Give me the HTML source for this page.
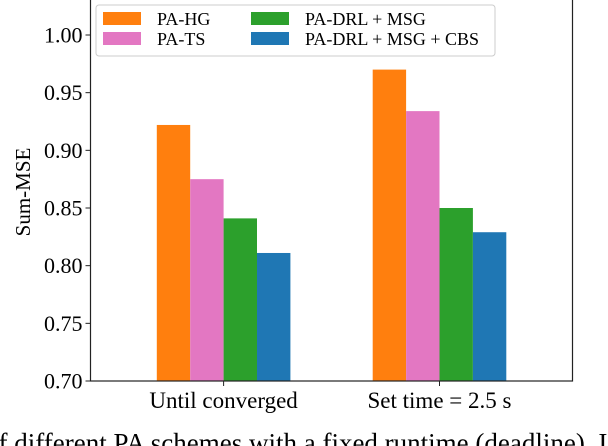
<!DOCTYPE html>
<html><head><meta charset="utf-8"><style>
html,body{margin:0;padding:0;background:#fff;overflow:hidden;width:608px;height:446px}
svg text{font-family:"Liberation Serif",serif;fill:#000}
</style></head><body>
<svg id="chart" width="608" height="446" viewBox="0 0 608 446" xmlns="http://www.w3.org/2000/svg"></svg>
<script>
const categories = ["Until converged", "Set time = 2.5 s"];
const seriesNames = ["PA-HG", "PA-TS", "PA-DRL + MSG", "PA-DRL + MSG + CBS"];
const paHG = [0.922, 0.970];
const paTS = [0.875, 0.934];
const paDrlMsg = [0.841, 0.850];
const paDrlMsgCbs = [0.811, 0.829];
const yTicks = [0.70, 0.75, 0.80, 0.85, 0.90, 0.95, 1.00];

const colors = ["#ff7f0e", "#e377c2", "#2ca02c", "#1f77b4"];
const allSeries = [paHG, paTS, paDrlMsg, paDrlMsgCbs];
const svg = document.getElementById('chart');
const NS = "http://www.w3.org/2000/svg";
const L = 90.5, R = 572.5, T = -2, B = 381;
const yMin = 0.70, yMax = 1.00, yTopPx = 35;
function y(v){ return B - (v - yMin) / (yMax - yMin) * (B - yTopPx); }
const groupCenters = [223.6, 439.5];
function xc(i){ return groupCenters[0] + i * (groupCenters[1] - groupCenters[0]); }
const bw = 33.4;
function mk(tag, attrs){ const e = document.createElementNS(NS, tag); for (const k in attrs) e.setAttribute(k, attrs[k]); svg.appendChild(e); return e; }

allSeries.forEach((s, si) => {
  s.forEach((v, ci) => {
    const x = xc(ci) + (si - 2) * bw;
    const r = mk('rect', {x: x, y: y(v), width: bw, height: B - y(v), fill: colors[si]});
    
    
  });
});

const fr = mk('rect', {x: L, y: T, width: R - L, height: B - T, fill: 'none', stroke: '#222', 'stroke-width': 1.2});



yTicks.forEach(t => {
  const ln = mk('line', {x1: L - 5, x2: L, y1: y(t), y2: y(t), stroke: '#222', 'stroke-width': 1});
  
  
  const tx = mk('text', {x: L - 8, y: y(t) + 7.5, 'text-anchor': 'end', 'font-size': 22});
  tx.textContent = t.toFixed(2);
  
  
});

categories.forEach((c, i) => {
  const ln = mk('line', {x1: xc(i), x2: xc(i), y1: B, y2: B + 5, stroke: '#222', 'stroke-width': 1});
  
  
  const tx = mk('text', {x: xc(i), y: B + 27, 'text-anchor': 'middle', 'font-size': 23});
  tx.textContent = c;
  
  
});

const yt = mk('text', {x: 0, y: 0, 'text-anchor': 'middle', 'font-size': 21, transform: 'translate(30,192) rotate(-90)'});
yt.textContent = 'Sum-MSE';



const lg = mk('rect', {x: 96, y: 5, width: 399, height: 51, rx: 3, fill: '#fff', stroke: '#ccc', 'stroke-width': 1, 'fill-opacity': 0.8});


const lpos = [[103, 12], [103, 32], [251, 12], [251, 32]];
seriesNames.forEach((n, i) => {
  const [lx, ly] = lpos[i];
  const sw = mk('rect', {x: lx, y: ly, width: 38, height: 13, fill: colors[i]});
  
  
  const tx = mk('text', {x: lx + 54, y: ly + 13, 'font-size': 18});
  tx.textContent = n;
  
  
});

const cap = mk('text', {x: -15, y: 452, 'font-size': 27});
cap.textContent = 'of different PA schemes with a fixed runtime (deadline). I';


</script>
</body></html>
